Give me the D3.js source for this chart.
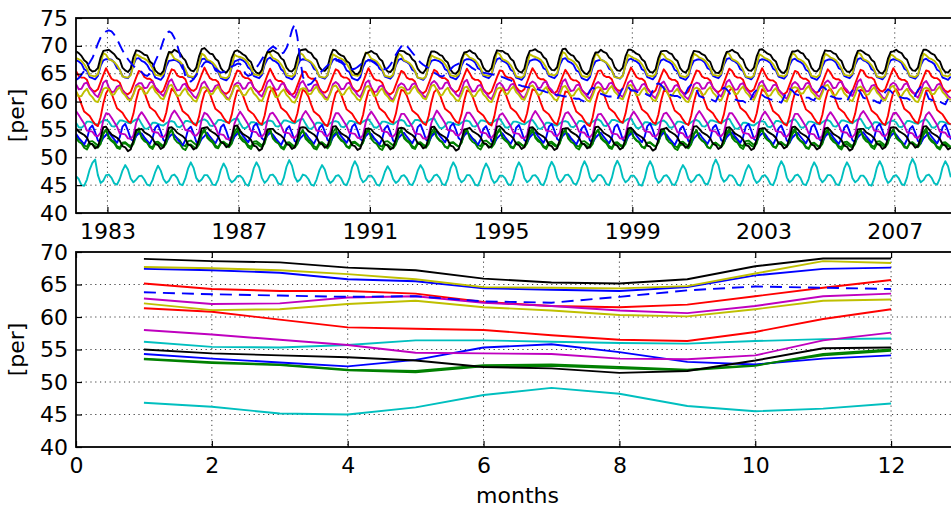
<!DOCTYPE html>
<html>
<head>
<meta charset="utf-8">
<script src="https://cdn.jsdelivr.net/npm/d3@7"></script>
<style>
  body { margin: 0; background: #fff; }
  svg { display: block; }
  text { font-family: "DejaVu Sans", sans-serif; fill: #000; }
</style>
</head>
<body>
<svg id="chart" width="951" height="510"></svg>
<script>
// ---- axis ticks ----
const firstYear = 1982;               // monthly records start in January 1982
const yearTicks = [1983, 1987, 1991, 1995, 1999, 2003, 2007];
const topValueTicks = [40, 45, 50, 55, 60, 65, 70, 75];
const monthTicks = [0, 2, 4, 6, 8, 10, 12];
const bottomValueTicks = [40, 45, 50, 55, 60, 65, 70];
const calendarMonths = [1, 2, 3, 4, 5, 6, 7, 8, 9, 10, 11, 12];

// ---- monthly records, one row per year (1982 ... 2008) ----
const tsB1 = [
67.4,67.2,66.8,65.8,65.5,64.4,64.2,64.0,64.6,66.4,67.4,67.6,
67.6,67.5,67.0,66.0,65.7,64.6,64.3,64.2,64.9,66.6,67.7,67.8,
67.3,67.1,66.6,65.7,65.4,64.3,64.1,63.9,64.5,66.3,67.3,67.4,
67.5,67.3,66.9,65.9,65.6,64.5,64.4,64.1,64.7,66.5,67.6,67.7,
67.2,67.0,66.7,65.6,65.3,64.2,64.0,63.8,64.4,66.2,67.2,67.4,
67.6,67.4,67.0,66.1,65.7,64.6,64.4,64.2,64.8,66.6,67.6,67.9,
67.4,67.2,66.8,65.8,65.4,64.4,64.2,64.0,64.6,66.4,67.4,67.6,
67.5,67.3,66.9,65.9,65.6,64.5,64.3,64.1,64.7,66.5,67.5,67.7,
67.2,67.0,66.6,65.6,65.3,64.2,64.0,63.8,64.4,66.2,67.2,67.4,
67.5,67.3,66.9,65.9,65.6,64.5,64.3,64.1,64.7,66.5,67.5,67.7,
67.3,67.1,66.7,65.7,65.4,64.3,64.1,63.9,64.5,66.3,67.3,67.5,
67.4,67.2,66.8,65.8,65.5,64.4,64.2,64.0,64.6,66.4,67.4,67.6,
67.6,67.4,67.0,66.0,65.7,64.6,64.4,64.2,64.8,66.6,67.6,67.8,
67.3,67.1,66.7,65.7,65.4,64.3,64.1,63.9,64.5,66.3,67.3,67.5,
67.6,67.4,67.0,66.0,65.7,64.6,64.4,64.2,64.8,66.6,67.6,67.8,
67.2,67.0,66.6,65.6,65.3,64.2,64.0,63.8,64.4,66.2,67.2,67.4,
67.5,67.3,66.9,65.9,65.6,64.5,64.3,64.1,64.7,66.5,67.5,67.7,
67.4,67.2,66.8,65.8,65.5,64.4,64.2,64.0,64.6,66.4,67.4,67.6,
67.3,67.1,66.7,65.7,65.4,64.3,64.1,63.9,64.5,66.3,67.3,67.5,
67.6,67.4,67.0,66.0,65.7,64.6,64.4,64.2,64.8,66.6,67.6,67.8,
67.4,67.2,66.8,65.8,65.5,64.4,64.2,64.0,64.6,66.4,67.4,67.6,
67.5,67.3,66.9,65.9,65.6,64.5,64.3,64.1,64.7,66.5,67.5,67.7,
67.3,67.1,66.7,65.7,65.4,64.3,64.1,63.9,64.5,66.3,67.3,67.5,
67.6,67.4,67.0,66.0,65.7,64.6,64.4,64.2,64.8,66.6,67.6,67.8,
67.4,67.2,66.8,65.8,65.5,64.4,64.2,64.0,64.6,66.4,67.4,67.6,
67.5,67.3,66.9,65.9,65.6,64.5,64.3,64.1,64.7,66.5,67.5,67.7,
67.3,67.1,66.7,65.7,65.4,64.3,64.1,63.9,64.5];
const tsG1 = [
53.8,53.3,52.9,52.1,51.9,52.8,52.9,52.5,52.1,52.8,54.3,55.0,
53.4,52.9,52.5,51.7,51.5,52.4,52.5,52.1,51.7,52.4,53.9,54.6,
53.7,53.2,52.8,52.0,51.8,52.7,52.8,52.4,52.0,52.7,54.2,54.9,
53.9,53.4,53.0,52.2,52.0,52.9,53.0,52.6,52.2,52.9,54.4,55.1,
53.5,53.0,52.6,51.8,51.6,52.5,52.6,52.2,51.8,52.5,54.0,54.7,
53.8,53.3,52.9,52.1,51.9,52.8,52.9,52.5,52.1,52.8,54.3,55.0,
53.6,53.1,52.7,51.9,51.7,52.6,52.7,52.3,51.9,52.6,54.1,54.8,
53.3,52.8,52.4,51.6,51.4,52.3,52.4,52.0,51.6,52.3,53.8,54.5,
53.7,53.2,52.8,52.0,51.8,52.7,52.8,52.4,52.0,52.7,54.2,54.9,
53.8,53.3,52.9,52.1,51.9,52.8,52.9,52.5,52.1,52.8,54.3,55.0,
53.4,52.9,52.5,51.7,51.5,52.4,52.5,52.1,51.7,52.4,53.9,54.6,
53.6,53.1,52.7,51.9,51.7,52.6,52.7,52.3,51.9,52.6,54.1,54.8,
53.9,53.4,53.0,52.2,52.0,52.9,53.0,52.6,52.2,52.9,54.4,55.1,
53.5,53.0,52.6,51.8,51.6,52.5,52.6,52.2,51.8,52.5,54.0,54.7,
53.7,53.2,52.8,52.0,51.8,52.7,52.8,52.4,52.0,52.7,54.2,54.9,
53.8,53.3,52.9,52.1,51.9,52.8,52.9,52.5,52.1,52.8,54.3,55.0,
53.4,52.9,52.5,51.7,51.5,52.4,52.5,52.1,51.7,52.4,53.9,54.6,
53.6,53.1,52.7,51.9,51.7,52.6,52.7,52.3,51.9,52.6,54.1,54.8,
53.7,53.2,52.8,52.0,51.8,52.7,52.8,52.4,52.0,52.7,54.2,54.9,
53.5,53.0,52.6,51.8,51.6,52.5,52.6,52.2,51.8,52.5,54.0,54.7,
53.9,53.4,53.0,52.2,52.0,52.9,53.0,52.6,52.2,52.9,54.4,55.1,
53.6,53.1,52.7,51.9,51.7,52.6,52.7,52.3,51.9,52.6,54.1,54.8,
53.4,52.9,52.5,51.7,51.5,52.4,52.5,52.1,51.7,52.4,53.9,54.6,
53.7,53.2,52.8,52.0,51.8,52.7,52.8,52.4,52.0,52.7,54.2,54.9,
53.8,53.3,52.9,52.1,51.9,52.8,52.9,52.5,52.1,52.8,54.3,55.0,
53.5,53.0,52.6,51.8,51.6,52.5,52.6,52.2,51.8,52.5,54.0,54.7,
53.6,53.1,52.7,51.9,51.7,52.6,52.7,52.3,51.9];
const tsR1 = [
65.5,64.6,64.3,64.3,63.9,62.6,62.0,61.8,62.2,63.5,64.8,66.0,
65.0,64.1,63.8,63.8,63.4,62.1,61.5,61.3,61.7,63.0,64.3,65.5,
65.3,64.4,64.1,64.1,63.7,62.4,61.8,61.6,62.0,63.3,64.6,65.8,
65.6,64.7,64.4,64.4,64.0,62.7,62.1,61.9,62.3,63.6,64.9,66.1,
65.1,64.2,63.9,63.9,63.5,62.2,61.6,61.4,61.8,63.1,64.4,65.6,
65.4,64.5,64.2,64.2,63.8,62.5,61.9,61.7,62.1,63.4,64.7,65.9,
64.9,64.0,63.7,63.7,63.3,62.0,61.4,61.2,61.6,62.9,64.2,65.4,
65.3,64.4,64.1,64.1,63.7,62.4,61.8,61.6,62.0,63.3,64.6,65.8,
65.5,64.6,64.3,64.3,63.9,62.6,62.0,61.8,62.2,63.5,64.8,66.0,
65.0,64.1,63.8,63.8,63.4,62.1,61.5,61.3,61.7,63.0,64.3,65.5,
65.2,64.3,64.0,64.0,63.6,62.3,61.7,61.5,61.9,63.2,64.5,65.7,
65.4,64.5,64.2,64.2,63.8,62.5,61.9,61.7,62.1,63.4,64.7,65.9,
65.1,64.2,63.9,63.9,63.5,62.2,61.6,61.4,61.8,63.1,64.4,65.6,
65.5,64.6,64.3,64.3,63.9,62.6,62.0,61.8,62.2,63.5,64.8,66.0,
65.2,64.3,64.0,64.0,63.6,62.3,61.7,61.5,61.9,63.2,64.5,65.7,
65.0,64.1,63.8,63.8,63.4,62.1,61.5,61.3,61.7,63.0,64.3,65.5,
65.6,64.7,64.4,64.4,64.0,62.7,62.1,61.9,62.3,63.6,64.9,66.1,
65.3,64.4,64.1,64.1,63.7,62.4,61.8,61.6,62.0,63.3,64.6,65.8,
65.1,64.2,63.9,63.9,63.5,62.2,61.6,61.4,61.8,63.1,64.4,65.6,
65.4,64.5,64.2,64.2,63.8,62.5,61.9,61.7,62.1,63.4,64.7,65.9,
65.5,64.6,64.3,64.3,63.9,62.6,62.0,61.8,62.2,63.5,64.8,66.0,
65.0,64.1,63.8,63.8,63.4,62.1,61.5,61.3,61.7,63.0,64.3,65.5,
65.3,64.4,64.1,64.1,63.7,62.4,61.8,61.6,62.0,63.3,64.6,65.8,
65.2,64.3,64.0,64.0,63.6,62.3,61.7,61.5,61.9,63.2,64.5,65.7,
65.5,64.6,64.3,64.3,63.9,62.6,62.0,61.8,62.2,63.5,64.8,66.0,
65.1,64.2,63.9,63.9,63.5,62.2,61.6,61.4,61.8,63.1,64.4,65.6,
65.4,64.5,64.2,64.2,63.8,62.5,61.9,61.7,62.1];
const tsC1 = [
56.2,55.4,55.3,55.7,56.4,56.4,56.2,56.0,55.9,56.3,56.6,56.7,
56.4,55.6,55.5,55.9,56.6,56.6,56.4,56.2,56.1,56.5,56.8,56.9,
56.0,55.2,55.1,55.5,56.2,56.2,56.0,55.8,55.7,56.1,56.4,56.5,
56.3,55.5,55.4,55.8,56.5,56.5,56.3,56.1,56.0,56.4,56.7,56.8,
56.5,55.7,55.6,56.0,56.7,56.7,56.5,56.3,56.2,56.6,56.9,57.0,
56.1,55.3,55.2,55.6,56.3,56.3,56.1,55.9,55.8,56.2,56.5,56.6,
56.4,55.6,55.5,55.9,56.6,56.6,56.4,56.2,56.1,56.5,56.8,56.9,
56.0,55.2,55.1,55.5,56.2,56.2,56.0,55.8,55.7,56.1,56.4,56.5,
56.3,55.5,55.4,55.8,56.5,56.5,56.3,56.1,56.0,56.4,56.7,56.8,
56.2,55.4,55.3,55.7,56.4,56.4,56.2,56.0,55.9,56.3,56.6,56.7,
56.5,55.7,55.6,56.0,56.7,56.7,56.5,56.3,56.2,56.6,56.9,57.0,
56.1,55.3,55.2,55.6,56.3,56.3,56.1,55.9,55.8,56.2,56.5,56.6,
56.4,55.6,55.5,55.9,56.6,56.6,56.4,56.2,56.1,56.5,56.8,56.9,
56.2,55.4,55.3,55.7,56.4,56.4,56.2,56.0,55.9,56.3,56.6,56.7,
56.0,55.2,55.1,55.5,56.2,56.2,56.0,55.8,55.7,56.1,56.4,56.5,
56.3,55.5,55.4,55.8,56.5,56.5,56.3,56.1,56.0,56.4,56.7,56.8,
56.5,55.7,55.6,56.0,56.7,56.7,56.5,56.3,56.2,56.6,56.9,57.0,
56.1,55.3,55.2,55.6,56.3,56.3,56.1,55.9,55.8,56.2,56.5,56.6,
56.2,55.4,55.3,55.7,56.4,56.4,56.2,56.0,55.9,56.3,56.6,56.7,
56.4,55.6,55.5,55.9,56.6,56.6,56.4,56.2,56.1,56.5,56.8,56.9,
56.0,55.2,55.1,55.5,56.2,56.2,56.0,55.8,55.7,56.1,56.4,56.5,
56.3,55.5,55.4,55.8,56.5,56.5,56.3,56.1,56.0,56.4,56.7,56.8,
56.2,55.4,55.3,55.7,56.4,56.4,56.2,56.0,55.9,56.3,56.6,56.7,
56.4,55.6,55.5,55.9,56.6,56.6,56.4,56.2,56.1,56.5,56.8,56.9,
56.1,55.3,55.2,55.6,56.3,56.3,56.1,55.9,55.8,56.2,56.5,56.6,
56.3,55.5,55.4,55.8,56.5,56.5,56.3,56.1,56.0,56.4,56.7,56.8,
56.2,55.4,55.3,55.7,56.4,56.4,56.2,56.0,55.9];
const tsM1 = [
63.1,62.2,62.3,63.2,63.4,62.4,61.9,61.2,60.8,61.9,63.4,63.8,
62.6,61.7,61.8,62.7,62.9,61.9,61.4,60.7,60.3,61.4,62.9,63.3,
63.3,62.4,62.5,63.4,63.6,62.6,62.1,61.4,61.0,62.1,63.6,64.0,
62.9,62.0,62.1,63.0,63.2,62.2,61.7,61.0,60.6,61.7,63.2,63.6,
62.7,61.8,61.9,62.8,63.0,62.0,61.5,60.8,60.4,61.5,63.0,63.4,
63.2,62.3,62.4,63.3,63.5,62.5,62.0,61.3,60.9,62.0,63.5,63.9,
63.0,62.1,62.2,63.1,63.3,62.3,61.8,61.1,60.7,61.8,63.3,63.7,
62.8,61.9,62.0,62.9,63.1,62.1,61.6,60.9,60.5,61.6,63.1,63.5,
63.1,62.2,62.3,63.2,63.4,62.4,61.9,61.2,60.8,61.9,63.4,63.8,
62.6,61.7,61.8,62.7,62.9,61.9,61.4,60.7,60.3,61.4,62.9,63.3,
63.0,62.1,62.2,63.1,63.3,62.3,61.8,61.1,60.7,61.8,63.3,63.7,
63.2,62.3,62.4,63.3,63.5,62.5,62.0,61.3,60.9,62.0,63.5,63.9,
62.7,61.8,61.9,62.8,63.0,62.0,61.5,60.8,60.4,61.5,63.0,63.4,
62.9,62.0,62.1,63.0,63.2,62.2,61.7,61.0,60.6,61.7,63.2,63.6,
63.3,62.4,62.5,63.4,63.6,62.6,62.1,61.4,61.0,62.1,63.6,64.0,
62.8,61.9,62.0,62.9,63.1,62.1,61.6,60.9,60.5,61.6,63.1,63.5,
63.1,62.2,62.3,63.2,63.4,62.4,61.9,61.2,60.8,61.9,63.4,63.8,
62.9,62.0,62.1,63.0,63.2,62.2,61.7,61.0,60.6,61.7,63.2,63.6,
62.7,61.8,61.9,62.8,63.0,62.0,61.5,60.8,60.4,61.5,63.0,63.4,
63.2,62.3,62.4,63.3,63.5,62.5,62.0,61.3,60.9,62.0,63.5,63.9,
63.0,62.1,62.2,63.1,63.3,62.3,61.8,61.1,60.7,61.8,63.3,63.7,
62.8,61.9,62.0,62.9,63.1,62.1,61.6,60.9,60.5,61.6,63.1,63.5,
63.1,62.2,62.3,63.2,63.4,62.4,61.9,61.2,60.8,61.9,63.4,63.8,
63.3,62.4,62.5,63.4,63.6,62.6,62.1,61.4,61.0,62.1,63.6,64.0,
62.7,61.8,61.9,62.8,63.0,62.0,61.5,60.8,60.4,61.5,63.0,63.4,
63.0,62.1,62.2,63.1,63.3,62.3,61.8,61.1,60.7,61.8,63.3,63.7,
62.9,62.0,62.1,63.0,63.2,62.2,61.7,61.0,60.6];
const tsY1 = [
67.8,67.6,67.3,66.7,65.9,64.7,64.6,64.5,64.9,66.8,68.7,68.4,
67.6,67.4,67.1,66.5,65.7,64.5,64.4,64.3,64.7,66.6,68.5,68.2,
67.9,67.7,67.4,66.8,66.0,64.8,64.7,64.6,65.0,66.9,68.8,68.5,
67.7,67.5,67.2,66.6,65.8,64.6,64.5,64.4,64.8,66.7,68.6,68.3,
67.5,67.3,67.0,66.4,65.6,64.4,64.3,64.2,64.6,66.5,68.4,68.1,
68.0,67.8,67.5,66.9,66.1,64.9,64.8,64.7,65.1,67.0,68.9,68.6,
67.8,67.6,67.3,66.7,65.9,64.7,64.6,64.5,64.9,66.8,68.7,68.4,
67.6,67.4,67.1,66.5,65.7,64.5,64.4,64.3,64.7,66.6,68.5,68.2,
67.9,67.7,67.4,66.8,66.0,64.8,64.7,64.6,65.0,66.9,68.8,68.5,
67.7,67.5,67.2,66.6,65.8,64.6,64.5,64.4,64.8,66.7,68.6,68.3,
67.4,67.2,66.9,66.3,65.5,64.3,64.2,64.1,64.5,66.4,68.3,68.0,
67.8,67.6,67.3,66.7,65.9,64.7,64.6,64.5,64.9,66.8,68.7,68.4,
67.9,67.7,67.4,66.8,66.0,64.8,64.7,64.6,65.0,66.9,68.8,68.5,
67.6,67.4,67.1,66.5,65.7,64.5,64.4,64.3,64.7,66.6,68.5,68.2,
68.0,67.8,67.5,66.9,66.1,64.9,64.8,64.7,65.1,67.0,68.9,68.6,
67.7,67.5,67.2,66.6,65.8,64.6,64.5,64.4,64.8,66.7,68.6,68.3,
67.5,67.3,67.0,66.4,65.6,64.4,64.3,64.2,64.6,66.5,68.4,68.1,
67.8,67.6,67.3,66.7,65.9,64.7,64.6,64.5,64.9,66.8,68.7,68.4,
67.7,67.5,67.2,66.6,65.8,64.6,64.5,64.4,64.8,66.7,68.6,68.3,
67.9,67.7,67.4,66.8,66.0,64.8,64.7,64.6,65.0,66.9,68.8,68.5,
67.6,67.4,67.1,66.5,65.7,64.5,64.4,64.3,64.7,66.6,68.5,68.2,
67.8,67.6,67.3,66.7,65.9,64.7,64.6,64.5,64.9,66.8,68.7,68.4,
67.7,67.5,67.2,66.6,65.8,64.6,64.5,64.4,64.8,66.7,68.6,68.3,
67.9,67.7,67.4,66.8,66.0,64.8,64.7,64.6,65.0,66.9,68.8,68.5,
67.6,67.4,67.1,66.5,65.7,64.5,64.4,64.3,64.7,66.6,68.5,68.2,
67.7,67.5,67.2,66.6,65.8,64.6,64.5,64.4,64.8,66.7,68.6,68.3,
67.8,67.6,67.3,66.7,65.9,64.7,64.6,64.5,64.9];
const tsK1 = [
69.0,68.7,68.2,67.4,67.0,65.8,65.4,65.5,66.0,67.9,69.1,69.2,
69.3,68.9,68.5,67.8,67.5,66.1,65.6,65.3,65.9,68.0,69.2,69.1,
68.8,68.4,68.3,67.2,66.8,65.6,65.1,64.9,65.5,67.5,68.9,68.8,
69.3,69.0,68.7,67.9,67.4,66.2,65.6,65.4,66.1,68.1,69.4,69.6,
69.1,68.6,68.5,67.7,67.3,66.0,65.4,65.2,65.9,67.9,69.0,69.2,
68.9,68.5,68.2,67.5,67.1,65.8,65.2,65.0,65.7,67.7,68.9,68.9,
69.2,68.9,68.6,67.8,67.4,66.1,65.5,65.4,66.0,68.0,69.2,69.3,
69.4,68.9,68.7,67.9,67.5,66.2,65.6,65.5,66.1,68.1,69.3,69.2,
68.6,68.3,68.1,67.3,66.9,65.6,65.0,64.9,65.5,67.5,68.7,68.8,
69.1,68.7,68.5,67.7,67.3,66.0,65.4,65.3,65.9,67.9,69.1,69.1,
69.0,68.6,68.4,67.6,67.2,65.9,65.3,65.1,65.8,67.8,69.0,69.0,
68.8,68.4,68.2,67.4,67.0,65.7,65.1,65.0,65.6,67.6,68.8,68.9,
69.2,68.8,68.6,67.8,67.4,66.1,65.5,65.4,66.0,68.0,69.2,69.1,
69.1,68.7,68.5,67.7,67.3,66.0,65.4,65.2,65.9,67.9,69.1,69.2,
69.4,69.0,68.8,68.0,67.6,66.3,65.7,65.6,66.2,68.2,69.4,69.5,
68.8,68.4,68.2,67.4,67.0,65.7,65.1,64.9,65.6,67.6,68.8,68.8,
69.3,68.9,68.7,67.9,67.5,66.2,65.6,65.5,66.1,68.1,69.3,69.3,
69.0,68.6,68.4,67.6,67.2,65.9,65.3,65.2,65.8,67.8,69.0,69.1,
69.1,68.7,68.5,67.7,67.3,66.0,65.4,65.2,65.9,67.9,69.1,69.0,
68.9,68.5,68.3,67.5,67.1,65.8,65.2,65.1,65.7,67.7,68.9,69.0,
69.3,68.9,68.7,67.9,67.5,66.2,65.6,65.5,66.1,68.1,69.3,69.4,
69.0,68.6,68.4,67.6,67.2,65.9,65.3,65.1,65.8,67.8,69.0,69.0,
69.2,68.8,68.6,67.8,67.4,66.1,65.5,65.4,66.0,68.0,69.2,69.1,
69.1,68.7,68.5,67.7,67.3,66.0,65.4,65.3,65.9,67.9,69.1,69.2,
68.9,68.5,68.3,67.5,67.1,65.8,65.2,65.0,65.7,67.7,68.9,69.0,
69.3,68.9,68.7,67.9,67.5,66.2,65.6,65.5,66.1,68.1,69.3,69.3,
69.0,68.6,68.4,67.6,67.2,65.9,65.3,65.2,65.8];
const tsB2 = [
54.2,53.5,52.9,52.3,53.3,55.2,55.7,54.5,53.0,52.6,53.5,54.0,
54.5,53.8,53.2,52.6,53.6,55.5,56.0,54.8,53.3,52.9,53.8,54.3,
54.3,53.6,53.0,52.4,53.4,55.3,55.8,54.6,53.1,52.7,53.6,54.1,
54.0,53.3,52.7,52.1,53.1,55.0,55.5,54.3,52.8,52.4,53.3,53.8,
54.4,53.7,53.1,52.5,53.5,55.4,55.9,54.7,53.2,52.8,53.7,54.2,
54.6,53.9,53.3,52.7,53.7,55.6,56.1,54.9,53.4,53.0,53.9,54.4,
54.1,53.4,52.8,52.2,53.2,55.1,55.6,54.4,52.9,52.5,53.4,53.9,
54.3,53.6,53.0,52.4,53.4,55.3,55.8,54.6,53.1,52.7,53.6,54.1,
54.5,53.8,53.2,52.6,53.6,55.5,56.0,54.8,53.3,52.9,53.8,54.3,
54.2,53.5,52.9,52.3,53.3,55.2,55.7,54.5,53.0,52.6,53.5,54.0,
54.4,53.7,53.1,52.5,53.5,55.4,55.9,54.7,53.2,52.8,53.7,54.2,
54.6,53.9,53.3,52.7,53.7,55.6,56.1,54.9,53.4,53.0,53.9,54.4,
54.1,53.4,52.8,52.2,53.2,55.1,55.6,54.4,52.9,52.5,53.4,53.9,
54.3,53.6,53.0,52.4,53.4,55.3,55.8,54.6,53.1,52.7,53.6,54.1,
54.5,53.8,53.2,52.6,53.6,55.5,56.0,54.8,53.3,52.9,53.8,54.3,
54.2,53.5,52.9,52.3,53.3,55.2,55.7,54.5,53.0,52.6,53.5,54.0,
54.4,53.7,53.1,52.5,53.5,55.4,55.9,54.7,53.2,52.8,53.7,54.2,
54.6,53.9,53.3,52.7,53.7,55.6,56.1,54.9,53.4,53.0,53.9,54.4,
54.1,53.4,52.8,52.2,53.2,55.1,55.6,54.4,52.9,52.5,53.4,53.9,
54.3,53.6,53.0,52.4,53.4,55.3,55.8,54.6,53.1,52.7,53.6,54.1,
54.5,53.8,53.2,52.6,53.6,55.5,56.0,54.8,53.3,52.9,53.8,54.3,
54.2,53.5,52.9,52.3,53.3,55.2,55.7,54.5,53.0,52.6,53.5,54.0,
54.4,53.7,53.1,52.5,53.5,55.4,55.9,54.7,53.2,52.8,53.7,54.2,
54.3,53.6,53.0,52.4,53.4,55.3,55.8,54.6,53.1,52.7,53.6,54.1,
54.5,53.8,53.2,52.6,53.6,55.5,56.0,54.8,53.3,52.9,53.8,54.3,
54.1,53.4,52.8,52.2,53.2,55.1,55.6,54.4,52.9,52.5,53.4,53.9,
54.4,53.7,53.1,52.5,53.5,55.4,55.9,54.7,53.2];
const tsG2 = [
53.4,52.8,52.5,51.7,51.4,52.3,52.4,52.0,51.7,52.4,54.2,54.9,
53.7,53.1,52.8,52.0,51.7,52.6,52.7,52.3,52.0,52.7,54.5,55.2,
53.5,52.9,52.6,51.8,51.5,52.4,52.5,52.1,51.8,52.5,54.3,55.0,
53.3,52.7,52.4,51.6,51.3,52.2,52.3,51.9,51.6,52.3,54.1,54.8,
53.8,53.2,52.9,52.1,51.8,52.7,52.8,52.4,52.1,52.8,54.6,55.3,
53.5,52.9,52.6,51.8,51.5,52.4,52.5,52.1,51.8,52.5,54.3,55.0,
53.4,52.8,52.5,51.7,51.4,52.3,52.4,52.0,51.7,52.4,54.2,54.9,
53.7,53.1,52.8,52.0,51.7,52.6,52.7,52.3,52.0,52.7,54.5,55.2,
53.6,53.0,52.7,51.9,51.6,52.5,52.6,52.2,51.9,52.6,54.4,55.1,
53.3,52.7,52.4,51.6,51.3,52.2,52.3,51.9,51.6,52.3,54.1,54.8,
53.7,53.1,52.8,52.0,51.7,52.6,52.7,52.3,52.0,52.7,54.5,55.2,
53.6,53.0,52.7,51.9,51.6,52.5,52.6,52.2,51.9,52.6,54.4,55.1,
53.4,52.8,52.5,51.7,51.4,52.3,52.4,52.0,51.7,52.4,54.2,54.9,
53.7,53.1,52.8,52.0,51.7,52.6,52.7,52.3,52.0,52.7,54.5,55.2,
53.5,52.9,52.6,51.8,51.5,52.4,52.5,52.1,51.8,52.5,54.3,55.0,
53.4,52.8,52.5,51.7,51.4,52.3,52.4,52.0,51.7,52.4,54.2,54.9,
53.7,53.1,52.8,52.0,51.7,52.6,52.7,52.3,52.0,52.7,54.5,55.2,
53.6,53.0,52.7,51.9,51.6,52.5,52.6,52.2,51.9,52.6,54.4,55.1,
53.3,52.7,52.4,51.6,51.3,52.2,52.3,51.9,51.6,52.3,54.1,54.8,
53.6,53.0,52.7,51.9,51.6,52.5,52.6,52.2,51.9,52.6,54.4,55.1,
53.5,52.9,52.6,51.8,51.5,52.4,52.5,52.1,51.8,52.5,54.3,55.0,
53.7,53.1,52.8,52.0,51.7,52.6,52.7,52.3,52.0,52.7,54.5,55.2,
53.6,53.0,52.7,51.9,51.6,52.5,52.6,52.2,51.9,52.6,54.4,55.1,
53.4,52.8,52.5,51.7,51.4,52.3,52.4,52.0,51.7,52.4,54.2,54.9,
53.5,52.9,52.6,51.8,51.5,52.4,52.5,52.1,51.8,52.5,54.3,55.0,
53.7,53.1,52.8,52.0,51.7,52.6,52.7,52.3,52.0,52.7,54.5,55.2,
53.4,52.8,52.5,51.7,51.4,52.3,52.4,52.0,51.7];
const tsR2 = [
61.7,60.9,59.5,58.2,57.8,57.4,56.6,55.9,55.6,57.2,59.7,61.5,
62.3,61.5,60.1,58.8,58.4,58.0,57.2,56.5,56.2,57.8,60.3,62.1,
62.5,61.7,60.3,59.0,58.6,58.2,57.4,56.7,56.4,58.0,60.5,62.3,
61.8,61.0,59.6,58.3,57.9,57.5,56.7,56.0,55.7,57.3,59.8,61.6,
62.2,61.4,60.0,58.7,58.3,57.9,57.1,56.4,56.1,57.7,60.2,62.0,
62.0,61.2,59.8,58.5,58.1,57.7,56.9,56.2,55.9,57.5,60.0,61.8,
62.4,61.6,60.2,58.9,58.5,58.1,57.3,56.6,56.3,57.9,60.4,62.2,
61.7,60.9,59.5,58.2,57.8,57.4,56.6,55.9,55.6,57.2,59.7,61.5,
62.1,61.3,59.9,58.6,58.2,57.8,57.0,56.3,56.0,57.6,60.1,61.9,
62.3,61.5,60.1,58.8,58.4,58.0,57.2,56.5,56.2,57.8,60.3,62.1,
61.9,61.1,59.7,58.4,58.0,57.6,56.8,56.1,55.8,57.4,59.9,61.7,
62.2,61.4,60.0,58.7,58.3,57.9,57.1,56.4,56.1,57.7,60.2,62.0,
61.8,61.0,59.6,58.3,57.9,57.5,56.7,56.0,55.7,57.3,59.8,61.6,
62.4,61.6,60.2,58.9,58.5,58.1,57.3,56.6,56.3,57.9,60.4,62.2,
62.0,61.2,59.8,58.5,58.1,57.7,56.9,56.2,55.9,57.5,60.0,61.8,
61.7,60.9,59.5,58.2,57.8,57.4,56.6,55.9,55.6,57.2,59.7,61.5,
62.3,61.5,60.1,58.8,58.4,58.0,57.2,56.5,56.2,57.8,60.3,62.1,
62.1,61.3,59.9,58.6,58.2,57.8,57.0,56.3,56.0,57.6,60.1,61.9,
61.9,61.1,59.7,58.4,58.0,57.6,56.8,56.1,55.8,57.4,59.9,61.7,
62.2,61.4,60.0,58.7,58.3,57.9,57.1,56.4,56.1,57.7,60.2,62.0,
62.4,61.6,60.2,58.9,58.5,58.1,57.3,56.6,56.3,57.9,60.4,62.2,
61.8,61.0,59.6,58.3,57.9,57.5,56.7,56.0,55.7,57.3,59.8,61.6,
62.1,61.3,59.9,58.6,58.2,57.8,57.0,56.3,56.0,57.6,60.1,61.9,
62.3,61.5,60.1,58.8,58.4,58.0,57.2,56.5,56.2,57.8,60.3,62.1,
61.9,61.1,59.7,58.4,58.0,57.6,56.8,56.1,55.8,57.4,59.9,61.7,
62.2,61.4,60.0,58.7,58.3,57.9,57.1,56.4,56.1,57.7,60.2,62.0,
62.0,61.2,59.8,58.5,58.1,57.7,56.9,56.2,55.9];
const tsC2 = [
46.6,46.1,45.0,44.9,46.0,47.8,49.0,49.6,46.8,45.4,45.8,46.8,
46.9,46.3,45.3,45.1,46.1,47.6,48.6,47.8,46.2,45.5,46.0,46.6,
46.7,46.0,45.1,44.9,45.9,47.4,48.5,47.6,46.1,45.4,45.8,46.7,
46.9,46.3,45.2,45.0,46.2,48.0,49.1,48.1,46.3,45.6,46.0,46.8,
46.8,46.1,45.1,45.0,46.0,47.8,48.9,48.0,46.2,45.5,45.9,46.6,
46.7,46.2,45.2,44.9,46.1,48.0,49.1,48.2,46.3,45.4,45.9,46.8,
46.9,46.3,45.3,45.1,46.3,48.3,49.5,48.5,46.5,45.6,46.0,46.9,
46.7,46.1,45.1,44.9,46.0,47.6,48.6,47.8,46.2,45.4,45.8,46.6,
46.8,46.2,45.2,45.0,46.2,48.2,49.3,48.4,46.4,45.5,45.9,46.7,
46.7,46.1,45.1,44.9,45.9,47.4,48.4,47.6,46.1,45.4,45.8,46.6,
46.8,46.2,45.2,45.0,46.0,47.6,48.6,47.8,46.2,45.5,45.9,46.7,
46.9,46.3,45.2,45.0,46.1,48.0,49.1,48.2,46.3,45.5,45.9,46.8,
46.8,46.1,45.1,44.9,46.0,47.8,48.9,48.0,46.2,45.4,45.8,46.7,
46.7,46.2,45.2,45.0,46.1,48.0,49.1,48.2,46.3,45.5,45.9,46.7,
46.8,46.2,45.2,45.0,46.2,48.1,49.2,48.3,46.4,45.5,46.0,46.8,
46.9,46.3,45.3,45.1,46.2,48.2,49.3,48.3,46.4,45.6,46.0,46.8,
46.8,46.2,45.2,45.0,46.3,48.3,49.4,48.4,46.4,45.5,45.9,46.7,
46.7,46.1,45.1,44.9,46.2,48.2,49.3,48.3,46.3,45.4,45.8,46.6,
46.8,46.2,45.2,45.0,46.0,47.6,48.6,47.8,46.2,45.5,45.9,46.7,
46.9,46.3,45.3,45.1,46.3,48.5,49.6,48.6,46.5,45.6,46.0,46.8,
46.7,46.1,45.1,44.9,46.0,47.6,48.6,47.8,46.2,45.4,45.8,46.6,
46.8,46.2,45.2,45.0,46.2,48.2,49.3,48.4,46.4,45.5,45.9,46.7,
46.9,46.3,45.2,45.0,46.1,48.0,49.1,48.2,46.3,45.5,46.0,46.8,
46.8,46.2,45.2,45.0,46.1,48.0,49.1,48.2,46.3,45.5,45.9,46.7,
46.7,46.1,45.1,44.9,46.2,48.2,49.3,48.3,46.4,45.4,45.8,46.6,
46.8,46.2,45.2,45.0,46.4,48.6,49.7,48.7,46.5,45.5,45.9,46.7,
46.9,46.3,45.3,45.1,46.2,48.2,49.3,48.4,46.4];
const tsM2 = [
58.3,57.6,56.8,56.0,54.8,54.7,54.6,53.9,53.8,54.4,56.7,57.9,
57.8,57.1,56.3,55.5,54.3,54.2,54.1,53.4,53.3,53.9,56.2,57.4,
58.1,57.4,56.6,55.8,54.6,54.5,54.4,53.7,53.6,54.2,56.5,57.7,
58.4,57.7,56.9,56.1,54.9,54.8,54.7,54.0,53.9,54.5,56.8,58.0,
57.7,57.0,56.2,55.4,54.2,54.1,54.0,53.3,53.2,53.8,56.1,57.3,
58.2,57.5,56.7,55.9,54.7,54.6,54.5,53.8,53.7,54.3,56.6,57.8,
58.0,57.3,56.5,55.7,54.5,54.4,54.3,53.6,53.5,54.1,56.4,57.6,
58.3,57.6,56.8,56.0,54.8,54.7,54.6,53.9,53.8,54.4,56.7,57.9,
57.9,57.2,56.4,55.6,54.4,54.3,54.2,53.5,53.4,54.0,56.3,57.5,
58.2,57.5,56.7,55.9,54.7,54.6,54.5,53.8,53.7,54.3,56.6,57.8,
57.8,57.1,56.3,55.5,54.3,54.2,54.1,53.4,53.3,53.9,56.2,57.4,
58.4,57.7,56.9,56.1,54.9,54.8,54.7,54.0,53.9,54.5,56.8,58.0,
58.0,57.3,56.5,55.7,54.5,54.4,54.3,53.6,53.5,54.1,56.4,57.6,
57.9,57.2,56.4,55.6,54.4,54.3,54.2,53.5,53.4,54.0,56.3,57.5,
58.3,57.6,56.8,56.0,54.8,54.7,54.6,53.9,53.8,54.4,56.7,57.9,
58.1,57.4,56.6,55.8,54.6,54.5,54.4,53.7,53.6,54.2,56.5,57.7,
57.8,57.1,56.3,55.5,54.3,54.2,54.1,53.4,53.3,53.9,56.2,57.4,
58.2,57.5,56.7,55.9,54.7,54.6,54.5,53.8,53.7,54.3,56.6,57.8,
58.0,57.3,56.5,55.7,54.5,54.4,54.3,53.6,53.5,54.1,56.4,57.6,
58.3,57.6,56.8,56.0,54.8,54.7,54.6,53.9,53.8,54.4,56.7,57.9,
57.9,57.2,56.4,55.6,54.4,54.3,54.2,53.5,53.4,54.0,56.3,57.5,
58.2,57.5,56.7,55.9,54.7,54.6,54.5,53.8,53.7,54.3,56.6,57.8,
57.8,57.1,56.3,55.5,54.3,54.2,54.1,53.4,53.3,53.9,56.2,57.4,
58.1,57.4,56.6,55.8,54.6,54.5,54.4,53.7,53.6,54.2,56.5,57.7,
58.3,57.6,56.8,56.0,54.8,54.7,54.6,53.9,53.8,54.4,56.7,57.9,
58.0,57.3,56.5,55.7,54.5,54.4,54.3,53.6,53.5,54.1,56.4,57.6,
58.1,57.4,56.6,55.8,54.6,54.5,54.4,53.7,53.6];
const tsY2 = [
61.9,60.9,61.0,61.8,62.3,61.3,60.8,60.1,59.9,61.0,62.3,62.5,
62.2,61.2,61.3,62.1,62.6,61.6,61.1,60.4,60.2,61.3,62.6,62.8,
62.4,61.4,61.5,62.3,62.8,61.8,61.3,60.6,60.4,61.5,62.8,63.0,
62.0,61.0,61.1,61.9,62.4,61.4,60.9,60.2,60.0,61.1,62.4,62.6,
62.3,61.3,61.4,62.2,62.7,61.7,61.2,60.5,60.3,61.4,62.7,62.9,
62.1,61.1,61.2,62.0,62.5,61.5,61.0,60.3,60.1,61.2,62.5,62.7,
61.8,60.8,60.9,61.7,62.2,61.2,60.7,60.0,59.8,60.9,62.2,62.4,
62.3,61.3,61.4,62.2,62.7,61.7,61.2,60.5,60.3,61.4,62.7,62.9,
62.2,61.2,61.3,62.1,62.6,61.6,61.1,60.4,60.2,61.3,62.6,62.8,
62.0,61.0,61.1,61.9,62.4,61.4,60.9,60.2,60.0,61.1,62.4,62.6,
62.4,61.4,61.5,62.3,62.8,61.8,61.3,60.6,60.4,61.5,62.8,63.0,
62.1,61.1,61.2,62.0,62.5,61.5,61.0,60.3,60.1,61.2,62.5,62.7,
61.9,60.9,61.0,61.8,62.3,61.3,60.8,60.1,59.9,61.0,62.3,62.5,
62.3,61.3,61.4,62.2,62.7,61.7,61.2,60.5,60.3,61.4,62.7,62.9,
62.2,61.2,61.3,62.1,62.6,61.6,61.1,60.4,60.2,61.3,62.6,62.8,
62.0,61.0,61.1,61.9,62.4,61.4,60.9,60.2,60.0,61.1,62.4,62.6,
62.4,61.4,61.5,62.3,62.8,61.8,61.3,60.6,60.4,61.5,62.8,63.0,
62.1,61.1,61.2,62.0,62.5,61.5,61.0,60.3,60.1,61.2,62.5,62.7,
61.9,60.9,61.0,61.8,62.3,61.3,60.8,60.1,59.9,61.0,62.3,62.5,
62.2,61.2,61.3,62.1,62.6,61.6,61.1,60.4,60.2,61.3,62.6,62.8,
62.3,61.3,61.4,62.2,62.7,61.7,61.2,60.5,60.3,61.4,62.7,62.9,
62.0,61.0,61.1,61.9,62.4,61.4,60.9,60.2,60.0,61.1,62.4,62.6,
62.4,61.4,61.5,62.3,62.8,61.8,61.3,60.6,60.4,61.5,62.8,63.0,
62.1,61.1,61.2,62.0,62.5,61.5,61.0,60.3,60.1,61.2,62.5,62.7,
62.2,61.2,61.3,62.1,62.6,61.6,61.1,60.4,60.2,61.3,62.6,62.8,
61.9,60.9,61.0,61.8,62.3,61.3,60.8,60.1,59.9,61.0,62.3,62.5,
62.3,61.3,61.4,62.2,62.7,61.7,61.2,60.5,60.3];
const tsK2 = [
55.2,54.6,54.3,54.0,53.5,52.5,52.3,51.6,51.9,53.5,55.4,55.5,
54.7,54.1,53.8,53.5,53.0,52.0,51.8,51.1,51.4,53.0,54.9,55.0,
55.1,54.5,54.2,53.9,53.4,52.4,52.2,51.5,51.8,53.4,55.3,55.4,
55.0,54.4,54.1,53.8,53.3,52.3,52.1,51.4,51.7,53.3,55.2,55.3,
55.4,54.8,54.5,54.2,53.7,52.7,52.5,51.8,52.1,53.7,55.6,55.7,
54.8,54.2,53.9,53.6,53.1,52.1,51.9,51.2,51.5,53.1,55.0,55.1,
55.1,54.5,54.2,53.9,53.4,52.4,52.2,51.5,51.8,53.4,55.3,55.4,
55.3,54.7,54.4,54.1,53.6,52.6,52.4,51.7,52.0,53.6,55.5,55.6,
54.9,54.3,54.0,53.7,53.2,52.2,52.0,51.3,51.6,53.2,55.1,55.2,
55.0,54.4,54.1,53.8,53.3,52.3,52.1,51.4,51.7,53.3,55.2,55.3,
55.2,54.6,54.3,54.0,53.5,52.5,52.3,51.6,51.9,53.5,55.4,55.5,
54.8,54.2,53.9,53.6,53.1,52.1,51.9,51.2,51.5,53.1,55.0,55.1,
55.3,54.7,54.4,54.1,53.6,52.6,52.4,51.7,52.0,53.6,55.5,55.6,
55.1,54.5,54.2,53.9,53.4,52.4,52.2,51.5,51.8,53.4,55.3,55.4,
54.9,54.3,54.0,53.7,53.2,52.2,52.0,51.3,51.6,53.2,55.1,55.2,
55.2,54.6,54.3,54.0,53.5,52.5,52.3,51.6,51.9,53.5,55.4,55.5,
55.0,54.4,54.1,53.8,53.3,52.3,52.1,51.4,51.7,53.3,55.2,55.3,
54.8,54.2,53.9,53.6,53.1,52.1,51.9,51.2,51.5,53.1,55.0,55.1,
55.3,54.7,54.4,54.1,53.6,52.6,52.4,51.7,52.0,53.6,55.5,55.6,
55.1,54.5,54.2,53.9,53.4,52.4,52.2,51.5,51.8,53.4,55.3,55.4,
54.9,54.3,54.0,53.7,53.2,52.2,52.0,51.3,51.6,53.2,55.1,55.2,
55.2,54.6,54.3,54.0,53.5,52.5,52.3,51.6,51.9,53.5,55.4,55.5,
55.0,54.4,54.1,53.8,53.3,52.3,52.1,51.4,51.7,53.3,55.2,55.3,
54.8,54.2,53.9,53.6,53.1,52.1,51.9,51.2,51.5,53.1,55.0,55.1,
55.1,54.5,54.2,53.9,53.4,52.4,52.2,51.5,51.8,53.4,55.3,55.4,
55.3,54.7,54.4,54.1,53.6,52.6,52.4,51.7,52.0,53.6,55.5,55.6,
55.0,54.4,54.1,53.8,53.3,52.3,52.1,51.4,51.7];
const tsBD = [
63.9,64.2,64.8,65.5,66.3,67.0,67.8,69.0,70.4,71.5,72.2,72.6,
72.8,72.6,72.0,71.2,70.2,69.2,68.4,67.6,67.0,66.4,66.0,65.8,
65.3,64.8,64.6,65.0,66.0,67.2,68.3,69.5,71.0,72.2,72.6,72.3,
71.4,70.2,68.5,66.5,64.6,63.8,63.6,64.0,64.8,65.5,66.3,67.0,
67.2,67.0,66.5,66.0,65.5,65.2,65.3,65.6,66.0,66.3,66.5,66.8,
66.8,65.9,65.0,64.6,64.8,65.4,66.1,66.8,67.6,68.4,69.0,69.5,
69.9,69.6,69.0,68.6,68.8,69.6,71.0,72.8,73.9,71.5,67.5,64.5,
63.3,63.0,63.2,63.8,64.5,65.0,65.5,66.0,66.5,66.8,67.0,67.3,
67.5,67.3,66.8,66.4,66.0,65.8,65.9,66.2,66.6,67.0,67.3,67.5,
67.3,67.0,66.6,66.2,65.9,65.8,66.0,66.6,67.4,68.4,69.2,69.9,
70.4,70.0,69.4,68.8,68.2,67.6,67.0,66.6,66.3,66.0,65.6,65.2,
64.9,64.6,64.5,64.8,65.3,65.8,66.3,66.6,66.8,67.0,66.9,66.7,
66.4,66.0,65.7,65.5,65.3,65.2,65.1,65.0,64.9,64.8,64.7,64.5,
64.4,64.2,64.0,63.8,63.6,63.3,63.0,62.8,62.7,62.6,62.5,62.4,
62.3,62.2,62.0,61.9,61.7,61.6,61.5,61.3,61.2,61.1,61.0,60.9,
61.0,60.8,60.6,60.5,60.5,60.2,60.0,61.0,62.0,62.5,62.2,61.6,
61.4,61.2,61.0,60.9,60.9,60.6,60.4,61.4,62.4,62.9,62.6,62.0,
62.0,61.8,61.6,61.5,61.5,61.2,61.0,62.0,63.0,63.3,63.0,62.4,
61.5,61.3,61.1,61.0,61.0,60.7,60.5,61.5,62.5,63.0,62.7,62.1,
61.0,60.8,60.6,60.5,60.5,60.2,60.0,61.0,62.0,62.5,62.2,61.6,
60.6,60.4,60.2,60.1,60.1,59.8,59.6,60.6,61.6,62.1,61.8,61.2,
60.8,60.6,60.4,60.3,60.3,60.0,59.8,60.8,61.8,62.3,62.0,61.4,
61.2,61.0,60.8,60.7,60.7,60.4,60.2,61.2,62.2,62.7,62.4,61.8,
61.0,60.8,60.6,60.5,60.5,60.2,60.0,61.0,62.0,62.5,62.2,61.6,
60.7,60.5,60.3,60.2,60.2,59.9,59.7,60.7,61.7,62.2,61.9,61.3,
61.1,60.9,60.7,60.6,60.6,60.3,60.1,61.1,62.1,62.6,62.3,61.7,
60.5,60.3,60.1,60.0,60.0,59.7,59.5,60.5,61.5];

// ---- mean annual cycle (months 1..12) ----
const climB1 = [67.4,67.2,66.8,65.8,65.5,64.4,64.2,64.0,64.6,66.4,67.4,67.6];
const climG1 = [53.6,53.05,52.7,51.9,51.7,52.6,52.7,52.3,51.9,52.6,54.1,54.8];
const climR1 = [65.15,64.3,64.0,64.0,63.6,62.3,61.7,61.5,61.9,63.2,64.5,65.7];
const climC1 = [56.2,55.4,55.3,55.7,56.4,56.4,56.2,56.0,55.9,56.3,56.6,56.7];
const climM1 = [62.85,62.0,62.1,63.0,63.2,62.2,61.7,61.0,60.6,61.7,63.2,63.6];
const climY1 = [67.7,67.5,67.2,66.6,65.8,64.6,64.5,64.4,64.75,66.7,68.6,68.3];
const climK1 = [68.95,68.6,68.4,67.6,67.2,65.9,65.3,65.15,65.8,67.8,69.0,69.0];
const climB2 = [54.3,53.6,53.0,52.4,53.4,55.3,55.8,54.6,53.1,52.7,53.6,54.1];
const climG2 = [53.5,52.9,52.6,51.8,51.5,52.4,52.5,52.1,51.8,52.5,54.3,55.0];
const climR2 = [61.35,60.8,59.6,58.4,58.2,58.0,57.2,56.5,56.3,57.7,59.7,61.2];
const climC2 = [46.8,46.2,45.15,45.0,46.1,48.0,49.1,48.2,46.3,45.5,45.9,46.7];
const climM2 = [58.0,57.3,56.5,55.7,54.5,54.4,54.3,53.6,53.5,54.1,56.4,57.6];
const climY2 = [62.1,61.05,61.2,62.0,62.5,61.5,61.0,60.3,60.1,61.2,62.5,62.7];
const climK2 = [55.0,54.4,54.1,53.8,53.3,52.3,52.1,51.4,51.7,53.3,55.2,55.3];
const climBD = [63.8,63.5,63.3,63.1,63.2,62.4,62.2,63.1,64.1,64.7,64.5,64.3];

// ---- line styles, in drawing order ----
const lineColors = ['#0000ff','#008000','#ff0000','#00bfbf','#bf00bf','#bfbf00','#000000',
                    '#0000ff','#008000','#ff0000','#00bfbf','#bf00bf','#bfbf00','#000000','#0000ff'];
const lineDashes = [null,null,null,null,null,null,null,null,null,null,null,null,null,null,'12,7'];

const monthlySets = [tsB1,tsG1,tsR1,tsC1,tsM1,tsY1,tsK1,tsB2,tsG2,tsR2,tsC2,tsM2,tsY2,tsK2,tsBD];
const climSets    = [climB1,climG1,climR1,climC1,climM1,climY1,climK1,climB2,climG2,climR2,climC2,climM2,climY2,climK2,climBD];

// ---- layout ----
const svg = d3.select('#chart');
const fontSize = 22;
const tickLen = 6;

const topBox = {left: 76, right: 959, top: 18, bottom: 213};
const botBox = {left: 76, right: 959, top: 252, bottom: 447};

const tStart = firstYear + 0.5 / 12;
const tEnd = 2008 + 11.5 / 12;
const xTop = d3.scaleLinear().domain([tStart, tEnd]).range([topBox.left, topBox.right]);
const yTop = d3.scaleLinear().domain([40, 75]).range([topBox.bottom, topBox.top]);
const xBot = d3.scaleLinear().domain([0, 13]).range([botBox.left, botBox.right]);
const yBot = d3.scaleLinear().domain([40, 70]).range([botBox.bottom, botBox.top]);

function drawPanel(box, xs, ys, xTicks, yTicks, xFmt, id) {
  const g = svg.append('g');

  // dotted grid
  const grid = g.append('g').attr('stroke', '#000').attr('stroke-width', 0.9)
    .attr('stroke-dasharray', '1.2,3.6').attr('opacity', 0.85);
  xTicks.forEach(v => {
    const x = xs(v);
    if (x > box.left + 1 && x < box.right - 1)
      grid.append('line').attr('x1', x).attr('x2', x).attr('y1', box.top).attr('y2', box.bottom);
  });
  yTicks.forEach(v => {
    const y = ys(v);
    if (y > box.top + 1 && y < box.bottom - 1)
      grid.append('line').attr('x1', box.left).attr('x2', box.right).attr('y1', y).attr('y2', y);
  });

  svg.append('clipPath').attr('id', id)
    .append('rect').attr('x', box.left).attr('y', box.top)
    .attr('width', box.right - box.left).attr('height', box.bottom - box.top);

  const lines = g.append('g').attr('clip-path', `url(#${id})`);

  // axes with inward ticks
  const axB = d3.axisBottom(xs).tickValues(xTicks).tickFormat(xFmt)
    .tickSizeInner(-tickLen).tickSizeOuter(0).tickPadding(10);
  const axT = d3.axisTop(xs).tickValues(xTicks).tickFormat('')
    .tickSizeInner(-tickLen).tickSizeOuter(0);
  const axL = d3.axisLeft(ys).tickValues(yTicks).tickFormat(d3.format('d'))
    .tickSizeInner(-tickLen).tickSizeOuter(0).tickPadding(8);

  const axes = [
    g.append('g').attr('transform', `translate(0,${box.bottom})`).call(axB),
    g.append('g').attr('transform', `translate(0,${box.top})`).call(axT),
    g.append('g').attr('transform', `translate(${box.left},0)`).call(axL)
  ];
  axes.forEach(a => {
    a.select('.domain').remove();
    a.selectAll('line').attr('stroke', '#000').attr('stroke-width', 1.2);
    a.selectAll('text').attr('font-size', fontSize).attr('font-family', '"DejaVu Sans", sans-serif').attr('fill', '#000');
    a.attr('font-size', null).attr('font-family', null);
  });

  // frame
  g.append('rect').attr('x', box.left).attr('y', box.top)
    .attr('width', box.right - box.left).attr('height', box.bottom - box.top)
    .attr('fill', 'none').attr('stroke', '#000').attr('stroke-width', 1.8);

  return lines;
}

const topLines = drawPanel(topBox, xTop, yTop, yearTicks, topValueTicks, d3.format('d'), 'clipTop');
const botLines = drawPanel(botBox, xBot, yBot, monthTicks, bottomValueTicks, d3.format('d'), 'clipBot');

// monthly records, month i plotted at mid-month
const lineTop = d3.line().x((d, i) => xTop(tStart + i / 12)).y(d => yTop(d));
monthlySets.forEach((vals, k) => {
  topLines.append('path').datum(vals)
    .attr('d', lineTop).attr('fill', 'none')
    .attr('stroke', lineColors[k]).attr('stroke-width', 1.9)
    .attr('stroke-linejoin', 'round')
    .attr('stroke-dasharray', lineDashes[k]);
});

// mean annual cycle
const lineBot = d3.line().x((d, i) => xBot(calendarMonths[i])).y(d => yBot(d));
climSets.forEach((vals, k) => {
  botLines.append('path').datum(vals)
    .attr('d', lineBot).attr('fill', 'none')
    .attr('stroke', lineColors[k]).attr('stroke-width', 1.9)
    .attr('stroke-linejoin', 'round')
    .attr('stroke-dasharray', lineDashes[k]);
});

// axis titles
svg.append('text').attr('transform', `translate(24,${(topBox.top + topBox.bottom) / 2}) rotate(-90)`)
  .attr('text-anchor', 'middle').attr('font-size', fontSize).text('[per]');
svg.append('text').attr('transform', `translate(24,${(botBox.top + botBox.bottom) / 2}) rotate(-90)`)
  .attr('text-anchor', 'middle').attr('font-size', fontSize).text('[per]');
svg.append('text').attr('x', (botBox.left + botBox.right) / 2).attr('y', 503)
  .attr('text-anchor', 'middle').attr('font-size', fontSize).text('months');
</script>
</body>
</html>
